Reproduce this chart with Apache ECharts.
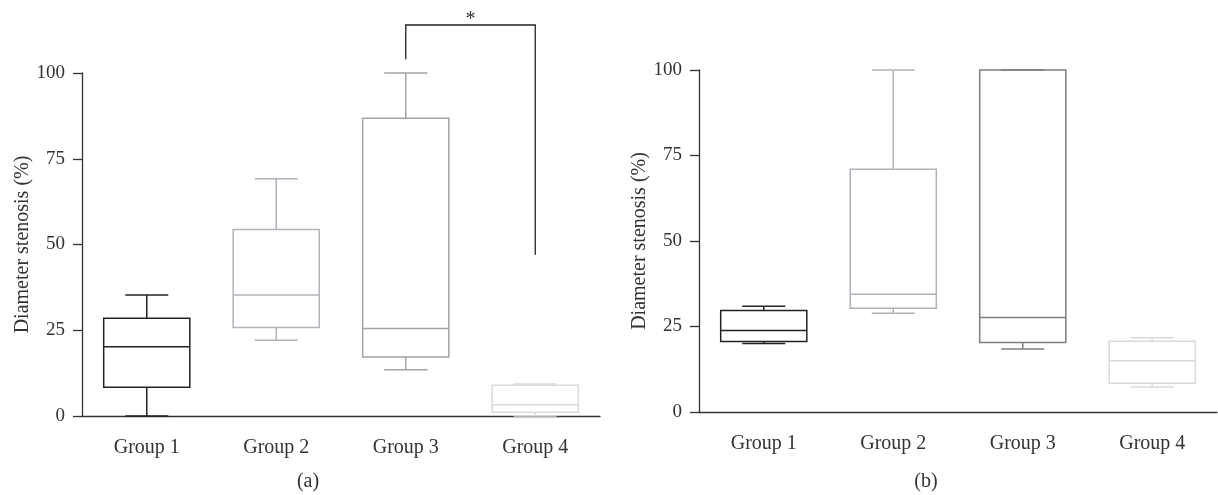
<!DOCTYPE html>
<html>
<head>
<meta charset="utf-8">
<script src="https://cdn.jsdelivr.net/npm/echarts@6/dist/echarts.min.js"></script>
<style>
  html, body { margin: 0; padding: 0; background: #fff; }
  #chart { width: 1218px; height: 495px; }
</style>
</head>
<body>
<div id="chart"></div>
<script>
// categories and y ticks
const groups = ['Group 1', 'Group 2', 'Group 3', 'Group 4']
const yTicks = [0, 25, 50, 75, 100]

// box values: [min, Q1, median, Q3, max]
const boxA = [
  [0, 8.4, 20.2, 28.5, 35.3],
  [22.1, 25.8, 35.3, 54.4, 69.2],
  [13.5, 17.2, 25.5, 86.8, 100],
  [0, 1.1, 3.3, 9.0, 9.3]
]
const boxB = [
  [20.0, 20.6, 23.8, 29.7, 30.9],
  [28.9, 30.3, 34.4, 71.0, 100],
  [18.4, 20.3, 27.6, 100, 100],
  [7.3, 8.4, 15.0, 20.7, 21.7]
]

// significance bracket on panel (a): legs at Group 3 and Group 4
const sigGroups = [2, 3]
const sigLegs = [104, 47]
const sigTop = 114
const sigText = '*'

const colorsA = ['#222222', '#b2b2ba', '#a3a3a9', '#dadada']
const colorsB = ['#222222', '#b2b2ba', '#7e7e82', '#dadada']

const FONT = '"Liberation Serif", "DejaVu Serif", serif'
const TXT = '#333333'

const boxRenderer = (colors) => (params, api) => {
  const i = api.value(0)
  const x = api.coord([i, 0])[0]
  const w = api.size([1, 0])[0] * 0.665
  const y = [1, 2, 3, 4, 5].map((k) => api.coord([i, api.value(k)])[1])
  const style = { stroke: colors[i], lineWidth: 1.5, fill: null }
  const line = (x1, y1, x2, y2) => ({ type: 'line', shape: { x1, y1, x2, y2 }, style })
  return {
    type: 'group',
    children: [
      { type: 'rect', shape: { x: x - w / 2, y: y[3], width: w, height: y[1] - y[3] }, style },
      line(x - w / 2, y[2], x + w / 2, y[2]),
      line(x, y[3], x, y[4]),
      line(x, y[1], x, y[0]),
      line(x - w / 4, y[4], x + w / 4, y[4]),
      line(x - w / 4, y[0], x + w / 4, y[0])
    ]
  }
}

const bracketRenderer = (params, api) => {
  const p1 = api.coord([sigGroups[0], sigLegs[0]])
  const p2 = api.coord([sigGroups[1], sigLegs[1]])
  const top = api.coord([sigGroups[0], sigTop])[1]
  const style = { stroke: '#222', lineWidth: 1.3, fill: null }
  return {
    type: 'group',
    children: [
      { type: 'polyline', shape: { points: [[p1[0], p1[1]], [p1[0], top], [p2[0], top], [p2[0], p2[1]]] }, style },
      {
        type: 'text',
        style: {
          text: sigText, x: (p1[0] + p2[0]) / 2, y: top - 5,
          align: 'center', verticalAlign: 'middle',
          fontSize: 20, fontFamily: FONT, fill: '#333'
        }
      }
    ]
  }
}

const makeX = (gridIndex) => ({
  type: 'category',
  gridIndex,
  data: groups,
  axisLine: { lineStyle: { color: '#333', width: 1.3 } },
  axisTick: { alignWithLabel: true, length: 10, lineStyle: { color: '#333', width: 1.3 } },
  axisLabel: { margin: 22, fontSize: 20, fontFamily: FONT, color: TXT }
})

const makeY = (gridIndex) => ({
  type: 'value',
  gridIndex,
  min: yTicks[0],
  max: yTicks[yTicks.length - 1],
  interval: 25,
  name: 'Diameter stenosis (%)',
  nameLocation: 'middle',
  nameGap: 48,
  nameTextStyle: { fontSize: 20, fontFamily: FONT, color: TXT },
  splitLine: { show: false },
  axisLine: { show: true, lineStyle: { color: '#333', width: 1.3 } },
  axisTick: { show: true, length: 9, lineStyle: { color: '#333', width: 1.3 } },
  axisLabel: { margin: 17, fontSize: 19, fontFamily: FONT, color: TXT }
})

const chart = echarts.init(document.getElementById('chart'), null, { renderer: 'canvas' })
chart.setOption({
  animation: false,
  backgroundColor: '#fff',
  title: [
    { text: '(a)', left: 303, top: 467, textAlign: 'center', textStyle: { fontSize: 20, fontWeight: 'normal', fontFamily: FONT, color: TXT } },
    { text: '(b)', left: 921, top: 467, textAlign: 'center', textStyle: { fontSize: 20, fontWeight: 'normal', fontFamily: FONT, color: TXT } }
  ],
  grid: [
    { left: 82, top: 73, width: 518, height: 343 },
    { left: 699, top: 70, width: 518, height: 342 }
  ],
  xAxis: [makeX(0), makeX(1)],
  yAxis: [makeY(0), makeY(1)],
  series: [
    {
      type: 'custom', xAxisIndex: 0, yAxisIndex: 0,
      renderItem: boxRenderer(colorsA),
      data: boxA.map((d, i) => [i, ...d])
    },
    {
      type: 'custom', xAxisIndex: 1, yAxisIndex: 1,
      renderItem: boxRenderer(colorsB),
      data: boxB.map((d, i) => [i, ...d])
    },
    {
      type: 'custom', xAxisIndex: 0, yAxisIndex: 0,
      renderItem: bracketRenderer,
      data: [[sigGroups[0], sigTop]]
    }
  ]
})
</script>
</body>
</html>
